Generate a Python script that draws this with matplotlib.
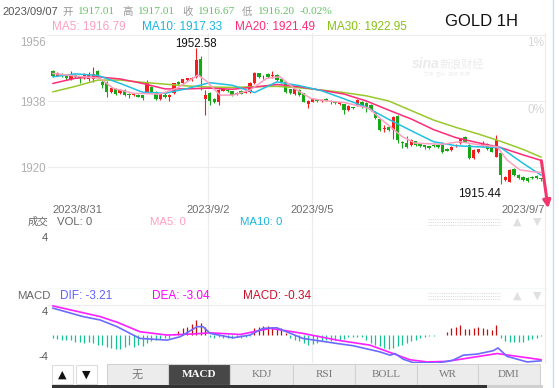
import matplotlib
matplotlib.use("Agg")
import matplotlib.pyplot as plt
from matplotlib.patches import Rectangle
import numpy as np

plt.rcParams['font.family'] = ['Liberation Sans', 'Noto Sans CJK SC', 'DejaVu Sans']

W, H = 559, 388

# hourly candles (red = up, green = down)
opens = [1946.2, 1944.9, 1945.3, 1945.0, 1944.0, 1945.0, 1944.5, 1944.4, 1944.0, 1944.0,
         1946.3, 1943.3, 1943.3, 1940.4, 1941.2, 1940.3, 1941.0, 1939.9, 1939.5, 1939.6,
         1939.5, 1940.5, 1941.9, 1940.5, 1938.5, 1939.7, 1939.0, 1940.1, 1943.3, 1942.8,
         1943.7, 1943.6, 1944.6, 1949.4, 1938.5, 1940.1, 1938.5, 1937.8, 1940.8, 1941.0,
         1940.6, 1939.8, 1940.6, 1940.3, 1940.5, 1942.8, 1945.5, 1944.7, 1945.3, 1944.8,
         1945.1, 1944.0, 1943.3, 1941.2, 1939.8, 1941.0, 1940.1, 1937.1, 1937.8, 1938.3,
         1938.0, 1938.5, 1938.1, 1937.8, 1937.2, 1937.1, 1935.5, 1936.3, 1936.9, 1937.8,
         1937.5, 1936.9, 1935.1, 1933.0, 1930.3, 1931.0, 1930.1, 1933.9, 1926.9, 1926.6,
         1926.0, 1927.0, 1926.3, 1925.9, 1925.6, 1926.0, 1925.9, 1926.5, 1925.0, 1924.6,
         1925.6, 1926.5, 1928.3, 1926.0, 1922.4, 1924.0, 1925.7, 1926.3, 1925.8, 1922.8,
         1923.7, 1916.5, 1916.0, 1919.4, 1917.8, 1917.3, 1917.0, 1917.4, 1917.5, 1917.01]
closes = [1944.8, 1945.5, 1944.9, 1944.3, 1944.8, 1944.5, 1944.2, 1945.2, 1945.3, 1945.3,
          1944.6, 1942.4, 1940.5, 1941.6, 1939.8, 1941.0, 1939.6, 1939.5, 1939.9, 1939.2,
          1938.7, 1942.8, 1940.5, 1938.5, 1939.8, 1939.2, 1939.6, 1942.8, 1942.6, 1943.9,
          1944.2, 1944.2, 1949.2, 1944.6, 1939.6, 1938.1, 1937.7, 1941.0, 1941.3, 1940.6,
          1939.6, 1940.3, 1940.0, 1940.8, 1942.8, 1945.5, 1944.6, 1944.9, 1944.6, 1945.0,
          1943.7, 1943.3, 1940.5, 1940.1, 1941.2, 1939.6, 1937.8, 1938.1, 1938.5, 1938.0,
          1938.3, 1938.1, 1937.6, 1937.4, 1937.6, 1935.5, 1936.6, 1936.0, 1938.3, 1936.4,
          1936.1, 1935.5, 1933.3, 1930.1, 1930.6, 1930.1, 1933.7, 1927.4, 1926.5, 1925.5,
          1927.4, 1926.0, 1925.6, 1925.5, 1925.2, 1925.6, 1925.5, 1924.2, 1924.5, 1925.5,
          1926.0, 1927.8, 1926.9, 1922.4, 1924.6, 1924.8, 1926.5, 1924.8, 1924.2, 1927.4,
          1917.8, 1917.4, 1919.2, 1917.8, 1917.0, 1916.5, 1916.2, 1917.0, 1917.0, 1916.67]
highs = [1946.4, 1945.8, 1945.6, 1945.2, 1946.2, 1945.3, 1944.8, 1945.5, 1945.8, 1947.4,
         1946.5, 1943.6, 1943.5, 1941.9, 1941.5, 1941.3, 1941.2, 1940.1, 1940.1, 1939.8,
         1939.7, 1943.6, 1942.2, 1940.8, 1940.0, 1940.1, 1939.8, 1943.0, 1943.5, 1944.1,
         1944.4, 1944.5, 1952.58, 1950.3, 1941.0, 1940.5, 1938.8, 1941.3, 1941.5, 1941.2,
         1940.8, 1940.5, 1940.9, 1941.0, 1943.3, 1945.9, 1945.7, 1945.0, 1945.6, 1946.3,
         1945.3, 1944.2, 1943.5, 1941.4, 1941.4, 1941.2, 1940.3, 1938.3, 1938.7, 1938.5,
         1938.5, 1938.7, 1938.3, 1938.0, 1937.8, 1937.3, 1936.8, 1936.5, 1938.5, 1938.0,
         1937.7, 1937.1, 1935.3, 1933.2, 1931.5, 1931.2, 1934.0, 1934.1, 1927.1, 1928.5,
         1927.6, 1927.2, 1926.5, 1926.1, 1925.8, 1926.2, 1926.1, 1926.7, 1925.2, 1925.7,
         1926.2, 1928.0, 1928.5, 1926.2, 1924.8, 1925.0, 1927.2, 1926.5, 1926.0, 1928.7,
         1924.0, 1917.6, 1919.4, 1919.6, 1918.0, 1917.5, 1917.2, 1917.6, 1917.7, 1917.01]
lows = [1944.5, 1944.7, 1944.5, 1943.8, 1943.6, 1944.2, 1943.0, 1944.1, 1943.5, 1943.3,
        1944.2, 1941.5, 1939.2, 1940.2, 1939.5, 1940.0, 1939.4, 1938.9, 1939.3, 1939.0,
        1938.2, 1940.3, 1940.3, 1938.2, 1938.3, 1938.8, 1937.9, 1939.9, 1942.3, 1942.6,
        1943.5, 1943.4, 1944.3, 1941.0, 1934.2, 1936.9, 1937.4, 1937.0, 1940.6, 1940.4,
        1939.4, 1939.6, 1939.8, 1940.1, 1940.3, 1942.6, 1944.4, 1944.0, 1944.4, 1944.2,
        1943.5, 1943.0, 1940.2, 1939.9, 1939.6, 1939.4, 1937.6, 1936.2, 1937.6, 1937.8,
        1937.8, 1937.9, 1937.3, 1937.2, 1937.0, 1934.5, 1935.3, 1935.8, 1936.7, 1936.2,
        1934.9, 1935.3, 1933.1, 1929.9, 1929.5, 1929.9, 1927.6, 1926.5, 1925.1, 1925.3,
        1925.8, 1925.8, 1925.4, 1925.0, 1925.0, 1925.4, 1925.3, 1923.8, 1924.3, 1924.4,
        1925.4, 1926.3, 1926.7, 1922.2, 1922.2, 1923.8, 1925.5, 1924.6, 1924.0, 1922.6,
        1915.44, 1916.3, 1915.8, 1917.6, 1916.8, 1916.3, 1916.0, 1916.8, 1916.8, 1916.20]

# moving averages sampled along the candles
ma_idx = [0, 5, 10, 15, 20, 25, 30, 35, 40, 45, 50, 55, 60, 65, 70, 75, 80, 85, 90, 95, 100, 105, 109]
ma10 = [1944.6, 1945.4, 1945.0, 1942.8, 1940.4, 1940.1, 1941.4, 1943.0, 1942.3, 1940.3, 1943.2, 1942.2,
        1940.8, 1938.6, 1936.3, 1933.0, 1929.9, 1926.9, 1925.8, 1925.5, 1925.3, 1921.0, 1917.8]
ma20 = [1942.8, 1944.2, 1944.6, 1944.0, 1942.8, 1941.3, 1941.3, 1941.5, 1941.2, 1941.8, 1942.5, 1941.9,
        1940.9, 1939.9, 1938.0, 1935.5, 1933.1, 1930.2, 1928.0, 1926.6, 1925.3, 1923.3, 1921.8]
ma30 = [1940.5, 1942.0, 1943.7, 1943.7, 1943.1, 1942.6, 1942.1, 1941.8, 1941.7, 1941.9, 1942.0, 1941.6,
        1941.0, 1940.3, 1939.4, 1938.0, 1935.4, 1932.8, 1930.8, 1929.0, 1927.0, 1924.8, 1922.7]
ma5_idx = [0, 6.7, 10.5, 13.4, 17.9, 23.9, 27.7, 30.6, 32.4, 34.4, 37.3, 40.2, 44, 47.8, 50.7, 53.8,
           57.6, 61.2, 65, 70.6, 73.5, 78, 80.9, 86.9, 90.9, 95.4, 99.2, 101.4, 104.3, 107.2, 109]
ma5 = [1945.5, 1944.6, 1944.2, 1941.5, 1940.1, 1939.9, 1941.5, 1943.7, 1945.1, 1943.3, 1939.6, 1939.6,
       1941.0, 1944.2, 1944.6, 1941.5, 1938.7, 1938.0, 1937.6, 1936.0, 1932.8, 1928.3, 1926.5, 1926.2,
       1926.9, 1926.0, 1925.5, 1921.9, 1919.2, 1918.7, 1918.5]

# MACD panel
macd_hist = [-0.7, -0.8, -0.9, -1.0, -1.0, -1.3, -1.4, -1.6, -1.4, -1.6, -1.8, -1.9, -2.2, -2.4, -2.6,
             -2.5, -2.2, -1.8, -2.2, -1.9, -2.0, -1.6, -1.2, -1.0, -0.8, -0.7, -0.6,
             0.1, 0.6, 1.1, 1.4, 1.8, 2.6, 2.1, 1.4,
             -0.4, -0.6, -0.5, -0.7, -0.6, -0.7, -0.5, -0.6, -0.4, -0.3,
             1.1, 1.3, 1.5, 1.5, 1.3, 1.2, 1.1, 0.3,
             -0.6, -0.9, -1.2, -1.5, -1.8, -1.7, -1.5, -1.2, -1.0, -1.2, -1.0, -0.9, -0.8, -0.5,
             -0.4, -0.4, -0.5, -0.9, -1.5, -1.9, -2.1, -2.4, -2.6, -2.4, -2.1, -1.8, -1.5, -1.2,
             -0.9, -0.6, -0.4, -0.3, -0.2, -0.1, -0.05,
             0.4, 1.1, 1.4, 1.7, 1.0, 0.9, 1.1, 1.4, 1.2, 0.9, 0.8, 1.7,
             -0.6, -1.1, -1.3, -1.3, -1.4, -1.3, -1.0, -0.8, -0.6, -0.34]
dif_idx = [0, 6.7, 10.5, 14.3, 19.4, 25.5, 28.4, 32.2, 33.5, 35.1, 40.2, 44, 46.9, 50, 55.8, 63.4, 67,
           73, 75.3, 76.4, 78.2, 80.4, 85.8, 89.3, 91.6, 94.7, 98.3, 99.4, 101.4, 105.9, 109]
dif = [4.7, 3.2, 2.6, 1.4, -0.7, -1.0, -0.4, 1.4, 1.4, 0.2, -0.6, -0.1, 1.1, 1.2, -0.7, -1.6, -2.0,
       -3.1, -3.7, -3.4, -4.4, -5.0, -5.1, -4.6, -3.7, -3.5, -2.9, -2.4, -3.9, -4.9, -4.7]
dea_idx = [0, 10.5, 14.3, 19.4, 25.5, 31.3, 35.1, 41.8, 48.5, 55.8, 63.4, 70.8, 79.7, 83.5, 88, 99.2, 109]
dea = [5.1, 3.2, 2.2, 0.5, -0.1, 0.1, 0.3, 0.0, 1.1, 0.2, -1.0, -1.9, -4.5, -4.9, -4.8, -3.4, -4.5]

date_labels = ['2023/8/31', '2023/9/2', '2023/9/5', '2023/9/7']
date_idx = [0, 34.6, 57.9, 109]
price_ticks = [1956, 1938, 1920]
tab_names = ['无', 'MACD', 'KDJ', 'RSI', 'BOLL', 'WR', 'DMI']

RED, GREEN = '#f41c1c', '#17a817'
C_MA5, C_MA10, C_MA20, C_MA30 = '#ff9ec0', '#22bfe2', '#ff2a78', '#97c92a'
GRID = '#ececec'

# pixel layout
X0, STEP = 53, 4.477          # pixel of first candle, pixels per candle
PPU = 3.667                   # pixels per price unit, 1938 sits at y=101


def px_axes(left, top, right, bottom):
    return fig.add_axes([left / W, 1 - bottom / H, (right - left) / W, (bottom - top) / H])


def ix(i):
    return X0 + STEP * i


fig = plt.figure(figsize=(W / 100, H / 100), dpi=100)
fig.patch.set_facecolor('white')
xlim = ((48 - X0) / STEP, (545 - X0) / STEP)

# ---- price panel ----
ax = px_axes(48, 33, 545, 230)
ax.set_xlim(*xlim)
ax.set_ylim(1938 - (230 - 101) / PPU, 1938 + (101 - 33) / PPU)
for v in price_ticks:
    ax.axhline(v, color=GRID, lw=0.8, zorder=0)
for d in date_idx[1:3]:
    ax.axvline(d, color=GRID, lw=0.8, zorder=0)

idx = np.arange(len(opens))
o, c = np.array(opens), np.array(closes)
cols = [RED if cc >= oo else GREEN for oo, cc in zip(o, c)]
ax.vlines(idx, lows, highs, colors=cols, lw=0.8, zorder=2)
body = np.maximum(np.abs(c - o), 0.2)
ax.bar(idx, body, bottom=np.minimum(o, c), width=0.74, color=cols, lw=0, zorder=3)

ax.plot(ma_idx, ma30, color=C_MA30, lw=1.1, zorder=4)
ax.plot(ma_idx, ma20, color=C_MA20, lw=1.1, zorder=4)
ax.plot(ma_idx, ma10, color=C_MA10, lw=1.1, zorder=4)
ax.plot(ma5_idx, ma5, color=C_MA5, lw=1.1, zorder=4)

hi = int(np.argmax(highs))
lo = int(np.argmin(lows))
ax.annotate(f'{highs[hi]:.2f}', (hi, highs[hi]), xytext=(0, -1.5), textcoords='offset points',
            ha='center', va='bottom', fontsize=8.3, color='#111')
ax.annotate(f'{lows[lo]:.2f}', (lo, lows[lo]), xytext=(0, -3), textcoords='offset points',
            ha='right', va='top', fontsize=8.5, color='#111')
for v in price_ticks:
    ax.text(-0.004, v - (2.2 if v == 1956 else 0.5), str(v), transform=ax.get_yaxis_transform(),
            ha='right', va='center', fontsize=8.3, color='#b0b0b0')
for s in ['left', 'top']:
    ax.spines[s].set_visible(False)
ax.spines['right'].set_color(GRID)
ax.spines['bottom'].set_color(GRID)
ax.set_xticks([])
ax.set_yticks([])

# ---- volume panel (empty) ----
axv = px_axes(48, 230, 545, 289)
axv.set_xlim(*xlim)
axv.set_ylim(0, 1)
for d in date_idx[1:3]:
    axv.axvline(d, color=GRID, lw=0.8)
axv.set_xticks([])
axv.set_yticks([])
for s in ['left', 'top']:
    axv.spines[s].set_visible(False)
axv.spines['right'].set_color(GRID)
axv.spines['bottom'].set_color('#2bb3b8')

# ---- MACD panel ----
axm = px_axes(48, 289, 545, 363)
axm.set_xlim(*xlim)
axm.set_ylim(-(363 - 334.5) / 5.6, (334.5 - 289) / 5.6)
for d in date_idx[1:3]:
    axm.axvline(d, color=GRID, lw=0.8, zorder=0)
axm.axhline((334.5 - 305) / 5.6, color=GRID, lw=0.8)
hc = ['#c80c0c' if v > 0 else '#14c293' for v in macd_hist]
axm.vlines(idx, 0, macd_hist, colors=hc, lw=0.9)
axm.plot(dea_idx, dea, color='#ff1eff', lw=1.2)
axm.plot(dif_idx, dif, color='#6b6bff', lw=1.2)
axm.set_xticks([])
axm.set_yticks([])
for s in ['left', 'top', 'bottom']:
    axm.spines[s].set_visible(False)
axm.spines['right'].set_color(GRID)

# ---- overlay for header, labels, tabs ----
ov = fig.add_axes([0, 0, 1, 1])
ov.set_xlim(0, W)
ov.set_ylim(H, 0)
ov.axis('off')

serif = ['Liberation Serif', 'Noto Sans CJK SC']
ov.text(2, 12, '2023/09/07', fontsize=8, color='#555', va='center')
head = [(62, '开'), (77, '1917.01'), (122, '高'), (137, '1917.01'), (182, '收'),
        (197, '1916.67'), (242, '低'), (257, '1916.20'), (300, '-0.02%')]
for x, t in head:
    if t[0] in '开高收低':
        ov.text(x, 12, t, fontsize=7.5, color='#999', va='center', family=['Noto Sans CJK SC'])
    else:
        ov.text(x, 12, t, fontsize=8.2, color='#66c266', va='center', family=serif)

ov.text(52, 27, 'MA5: 1916.79', fontsize=8.5, color=C_MA5, va='center')
ov.text(142, 27, 'MA10: 1917.33', fontsize=8.5, color='#19b5e0', va='center')
ov.text(235, 27, 'MA20: 1921.49', fontsize=8.5, color=C_MA20, va='center')
ov.text(327, 27, 'MA30: 1922.95', fontsize=8.5, color='#88c214', va='center')
ov.text(445, 22, 'GOLD 1H', fontsize=12, color='#111', va='center')

ov.text(544, 43, '1%', fontsize=8.5, color='#d6d6d6', ha='right', va='center')
ov.text(544, 110, '0%', fontsize=8.5, color='#d6d6d6', ha='right', va='center')
ov.text(412, 64, 'sina', fontsize=10, color='#ebebeb', style='italic', weight='bold', va='center')
ov.text(440, 64, '新浪财经', fontsize=8, color='#ebebeb', va='center', family=['Noto Sans CJK SC'])
ov.text(424, 75, '文字  图片  视频  新闻', fontsize=3.5, color='#efefef', va='center',
        family=['Noto Sans CJK SC'])

# date labels
aligns = ['left', 'center', 'center', 'right']
for lab, d, ha in zip(date_labels, date_idx, aligns):
    x = ix(d) - 1 if ha == 'left' else (545 if ha == 'right' else ix(d))
    ov.text(x, 210, lab, fontsize=8, color='#6e6e6e', ha=ha, va='center')

# volume header
ov.text(48, 222, '成交', fontsize=7.5, color='#666', ha='right', va='center', family=['Noto Sans CJK SC'])
ov.text(57, 222, 'VOL: 0', fontsize=8.2, color='#666', va='center')
ov.text(150, 222, 'MA5: 0', fontsize=8.2, color=C_MA5, va='center')
ov.text(240, 222, 'MA10: 0', fontsize=8.2, color='#19b5e0', va='center')
ov.text(48, 238, '4', fontsize=8, color='#555', ha='right', va='center')

# macd header
ov.text(50, 296, 'MACD', fontsize=8.2, color='#666', ha='right', va='center')
ov.text(60, 296, 'DIF: -3.21', fontsize=8.5, color='#6060ff', va='center')
ov.text(152, 296, 'DEA: -3.04', fontsize=8.5, color='#ff00ff', va='center')
ov.text(243, 296, 'MACD: -0.34', fontsize=8.5, color='#c8102e', va='center')
ov.text(48, 312, '4', fontsize=8, color='#555', ha='right', va='center')
ov.text(48, 357, '-4', fontsize=8, color='#555', ha='right', va='center')

# dotted boxes and arrows in the panel headers
for yy in (222, 296):
    for k in range(3):
        ov.plot([428, 500], [yy - 3 + 3 * k] * 2, color='#dcdcdc', lw=0.8, ls=(0, (1, 1)))
    ov.text(517, yy, '▲', fontsize=8, color='#e0e0e0', ha='center', va='center', family=['DejaVu Sans'])
    ov.text(537, yy, '▼', fontsize=8, color='#e0e0e0', ha='center', va='center', family=['DejaVu Sans'])

# right edge strip
ov.plot([553, 553], [0, H], color='#c5dcf0', lw=1)

# hand drawn red arrow at the end
ov.annotate('', xy=(548.5, 211), xytext=(541, 158),
            arrowprops=dict(arrowstyle='-|>', color='#f2366c', lw=2.2, mutation_scale=11),
            annotation_clip=False)

# tab bar
for x, t in [(52, '▲'), (76, '▼')]:
    ov.add_patch(Rectangle((x, 365), 21, 19, facecolor='white', edgecolor='#dddddd', lw=0.8))
    ov.text(x + 10.5, 374.5, t, fontsize=8, color='#111', ha='center', va='center', family=['DejaVu Sans'])
edges = [107, 168, 230, 293, 355, 417, 478, 540]
for k, t in enumerate(tab_names):
    x1, x2 = edges[k], edges[k + 1]
    active = t == 'MACD'
    ov.add_patch(Rectangle((x1, 364), x2 - x1, 20.5, facecolor='#474747' if active else '#ececec',
                           edgecolor='#d2d2d2', lw=0.8))
    ov.text((x1 + x2) / 2, 374.5, t, fontsize=8, ha='center', va='center',
            color='white' if active else '#777', weight='bold' if active else 'normal', family=serif)
ov.add_patch(Rectangle((52, 385), 435, 3, facecolor='#333', lw=0))
ov.add_patch(Rectangle((487, 385), 56, 3, facecolor='#cfcfcf', lw=0))

fig.savefig('out.png', dpi=100, facecolor='white')
